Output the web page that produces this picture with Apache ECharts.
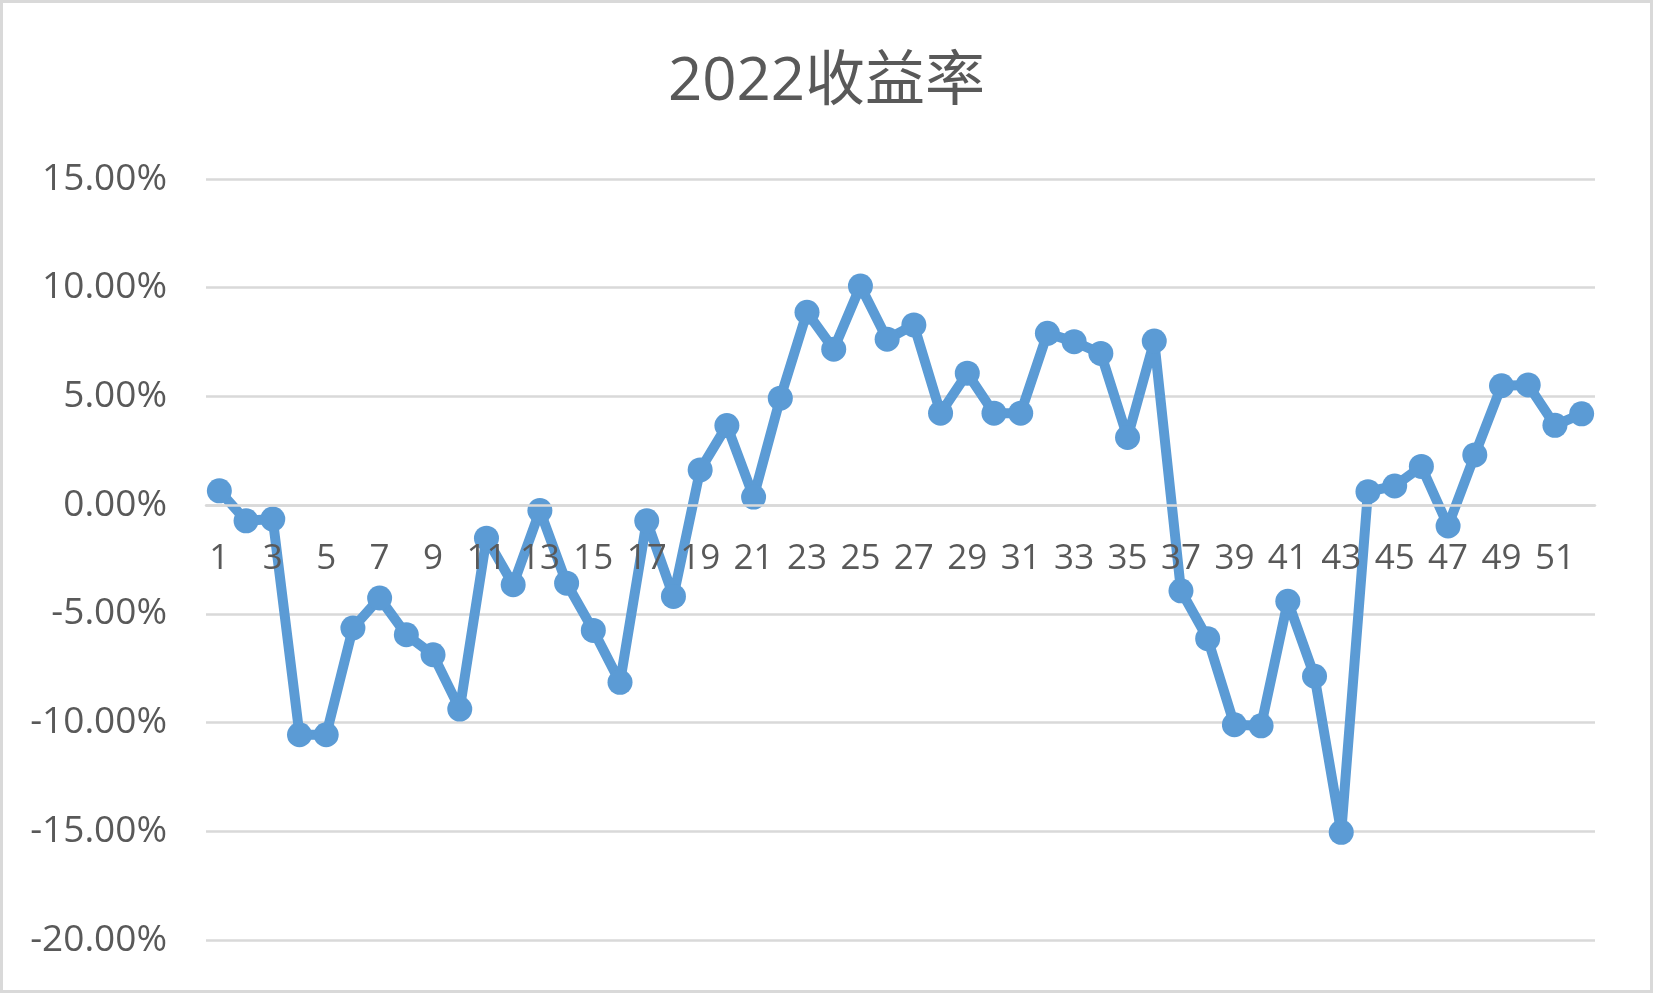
<!DOCTYPE html>
<html>
<head>
<meta charset="utf-8">
<script src="https://cdn.jsdelivr.net/npm/echarts@6/dist/echarts.min.js"></script>
<style>
html,body{margin:0;padding:0;background:#fff;}
#c{width:1653px;height:993px;}
</style>
</head>
<body>
<div id="c"></div>
<script>
const titleText = '2022收益率';
const categories = Array.from({length: 52}, (_, i) => String(i + 1));
const returns = [
  0.0066, -0.0072, -0.0064, -0.1056, -0.1056, -0.0565, -0.0427, -0.0596, -0.0688, -0.0938,
  -0.0152, -0.0366, -0.0025, -0.0359, -0.0576, -0.0815, -0.0072, -0.0420, 0.0162, 0.0366,
  0.0037, 0.0492, 0.0887, 0.0717, 0.1008, 0.0763, 0.0829, 0.0423, 0.0607, 0.0423,
  0.0423, 0.0790, 0.0752, 0.0698, 0.0311, 0.0755, -0.0394, -0.0614, -0.1010, -0.1015,
  -0.0442, -0.0787, -0.1505, 0.0062, 0.0088, 0.0178, -0.0096, 0.0231, 0.0549, 0.0553,
  0.0367, 0.0420
];
const yMin = -0.20, yMax = 0.15, yStep = 0.05;

const gridTop = 179, gridBottom = 53, chartH = 993;
const plotH = chartH - gridTop - gridBottom;
const zeroOffset = -plotH * (0 - yMin) / (yMax - yMin);

const chart = echarts.init(document.getElementById('c'), null, {renderer: 'canvas'});
chart.setOption({
  backgroundColor: '#ffffff',
  animation: false,
  graphic: [{
    type: 'rect', silent: true,
    shape: {x: 1.5, y: 1.5, width: 1650, height: 990},
    style: {fill: null, stroke: '#d9d9d9', lineWidth: 3}
  }],
  title: {
    text: titleText,
    left: 'center',
    top: 48,
    textStyle: {
      fontFamily: '"Open Sans", "Noto Sans CJK SC", sans-serif',
      fontSize: 60, fontWeight: 'normal', color: '#595959'
    }
  },
  grid: {left: 206, right: 58, top: gridTop, bottom: gridBottom, containLabel: false, outerBoundsMode: 'none'},
  xAxis: {
    type: 'category',
    data: categories,
    boundaryGap: true,
    offset: zeroOffset,
    z: 10,
    axisLine: {show: true, onZero: false, lineStyle: {color: '#d9d9d9', width: 2.5}},
    axisTick: {show: false},
    axisLabel: {
      interval: 1, margin: 36,
      fontFamily: '"Open Sans", sans-serif', fontSize: 35, color: '#595959'
    },
    splitLine: {show: false}
  },
  yAxis: {
    type: 'value',
    min: yMin, max: yMax, interval: yStep,
    axisLine: {show: false},
    axisTick: {show: false},
    axisLabel: {
      margin: 39,
      fontFamily: '"Open Sans", sans-serif', fontSize: 37, color: '#595959',
      formatter: v => (v * 100).toFixed(2) + '%'
    },
    splitLine: {show: true, lineStyle: {color: '#d9d9d9', width: 2.5}}
  },
  series: [{
    type: 'line',
    data: returns,
    symbol: 'circle',
    symbolSize: 25,
    showSymbol: true,
    showAllSymbol: true,
    lineStyle: {color: '#5b9bd5', width: 10},
    itemStyle: {color: '#5b9bd5'},
    z: 3
  }]
});
</script>
</body>
</html>
